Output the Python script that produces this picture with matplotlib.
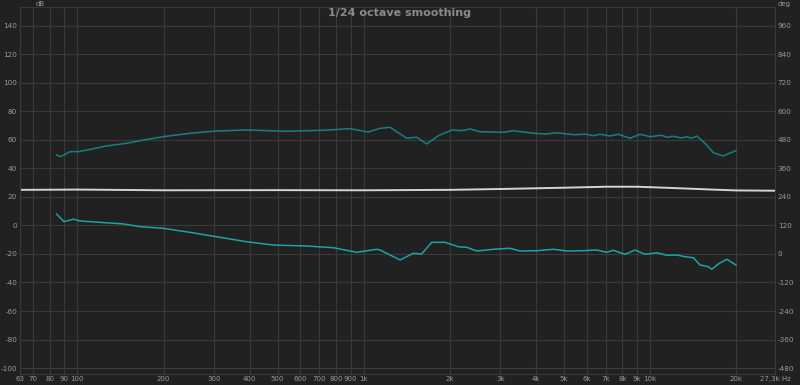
import numpy as np
import matplotlib
matplotlib.use('Agg')
import matplotlib.pyplot as plt

plt.rcParams['axes.unicode_minus'] = False

# upper curve (dB)
top_f = [84.6, 87.4, 94.2, 100.7, 110.6, 126.5, 148.6, 165, 199, 247, 306, 390, 538, 720,
         895, 1035, 1140, 1235, 1413, 1531, 1659, 1821, 2029, 2198, 2350, 2546, 3071, 3328,
         3909, 4353, 4719, 5395, 6006, 6333, 6685, 7245, 7745, 8511, 9220, 9990, 10977,
         11426, 12050, 12890, 13420, 13970, 14550, 15550, 16630, 18020, 19520, 19950]
top_db = [49.5, 48.3, 51.8, 51.8, 53.4, 55.8, 57.7, 59.5, 62.3, 64.7, 66.3, 67.0, 66.1, 66.8,
          67.9, 65.6, 68.2, 68.9, 61.2, 61.9, 57.2, 63.0, 67.0, 66.5, 67.7, 65.8, 65.4, 66.5,
          64.7, 64.2, 65.1, 63.7, 64.0, 63.0, 64.0, 62.8, 64.0, 61.2, 64.0, 62.3, 63.3,
          61.9, 62.6, 61.4, 62.3, 61.2, 62.8, 57.7, 51.1, 48.8, 51.8, 52.5]

# white (flat) curve
mid_f = [63, 100, 200, 500, 1000, 2000, 3000, 5000, 7000, 9000, 12000, 16000, 20000, 27300]
mid_db = [25.0, 25.2, 24.7, 24.8, 24.7, 25.0, 25.6, 26.5, 27.2, 27.2, 26.3, 25.3, 24.6, 24.4]

# lower curve
low_f = [84.6, 89.7, 96.8, 102, 113.6, 144.6, 165, 199.5, 247, 306, 390, 483, 632, 783, 945,
         1110, 1140, 1339, 1489, 1593, 1727, 1922, 2139, 2289, 2480, 2834, 3241, 3513, 4018,
         4593, 5116, 5846, 6510, 7052, 7438, 8174, 8856, 9600, 10550, 11426, 12390, 13240,
         14160, 14940, 15970, 16420, 17310, 18520, 19950]
low_db = [7.9, 2.7, 4.4, 3.2, 2.5, 1.1, -0.8, -2.0, -4.8, -7.9, -11.4, -13.7, -14.4, -15.6, -18.8,
          -16.7, -17.2, -24.2, -19.5, -20.0, -11.8, -11.8, -14.9, -15.3, -17.9, -16.7, -16.0, -17.9, -17.7,
          -16.7, -17.9, -17.7, -17.2, -18.8, -17.4, -20.2, -17.2, -20.2, -19.1, -20.9, -20.7, -21.9,
          -22.6, -27.7, -28.9, -30.7, -27.0, -23.7, -27.7]

x_ticks = [63, 70, 80, 90, 100, 200, 300, 400, 500, 600, 700, 800, 900, 1000,
           2000, 3000, 4000, 5000, 6000, 7000, 8000, 9000, 10000, 20000, 27300]
x_labels = ['63', '70', '80', '90', '100', '200', '300', '400', '500', '600', '700', '800', '900', '1k',
            '2k', '3k', '4k', '5k', '6k', '7k', '8k', '9k', '10k', '20k', '27,3k Hz']
y_ticks = list(range(-100, 141, 20))

BG = '#212121'
GRID = '#3a3a3a'
TXT = '#9a9a9a'

fig = plt.figure(figsize=(8, 3.85), dpi=100, facecolor=BG)
ax = fig.add_axes([20 / 800, 11 / 385, 755 / 800, 367 / 385], facecolor=BG)

ax.plot(mid_f, mid_db, color='#d4d4d4', lw=1.4)
ax.plot(top_f, top_db, color='#17807f', lw=1.1)
ax.plot(low_f, low_db, color='#1aa5a5', lw=1.1)

ax.set_xscale('log')
ax.set_xlim(63, 27300)
ax.set_ylim(-104.2, 153.3)
ax.set_xticks(x_ticks)
ax.set_xticklabels(x_labels)
ax.xaxis.set_minor_locator(matplotlib.ticker.NullLocator())
ax.set_yticks(y_ticks)
ax.grid(True, color=GRID, lw=0.8)
ax.tick_params(axis='y', length=0, colors=TXT, labelsize=5.2, pad=2)
ax.tick_params(axis='x', length=0, colors=TXT, labelsize=5, pad=1.5)
for s in ax.spines.values():
    s.set_color(GRID)

ax2 = ax.twinx()
ax2.set_ylim(-104.2 * 6 + 120, 153.3 * 6 + 120)
ax2.set_yticks([t * 6 + 120 for t in y_ticks])
ax2.tick_params(length=0, colors=TXT, labelsize=5.2, pad=2)
for s in ax2.spines.values():
    s.set_visible(False)

fig.text(400 / 800, 1 - 13 / 385, '1/24 octave smoothing', ha='center', va='center',
         color='#8a8a8a', fontsize=8, fontweight='bold')
fig.text(40 / 800, 1 - 4 / 385, 'dB', ha='center', va='center', color=TXT, fontsize=5)
fig.text(784 / 800, 1 - 4 / 385, 'deg', ha='center', va='center', color=TXT, fontsize=5)

fig.savefig('out.png', dpi=100, facecolor=BG)
